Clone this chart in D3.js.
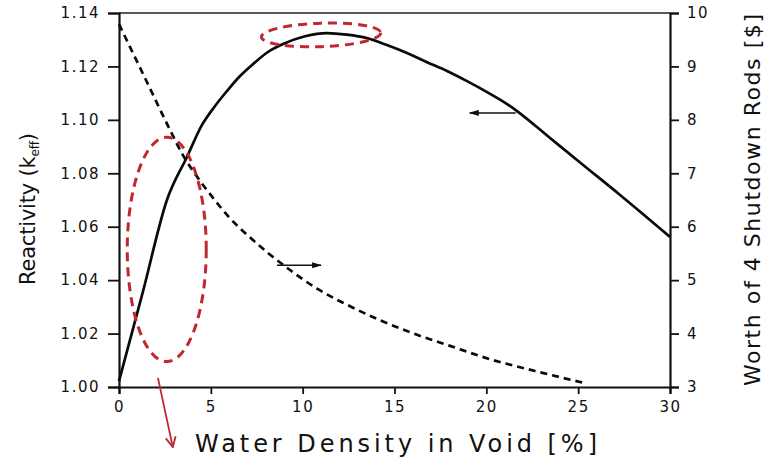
<!DOCTYPE html>
<html>
<head>
<meta charset="utf-8">
<script src="https://cdn.jsdelivr.net/npm/d3@7"></script>
<style>
  html, body { margin: 0; padding: 0; background: #fff; }
  svg { display: block; }
  text { font-family: "DejaVu Sans", sans-serif; fill: #111; }
</style>
</head>
<body>
<svg id="chart" width="768" height="458"></svg>
<script>
// Water density in the void [%] and the matching k-eff (left axis)
const densityK = [0, 1.31, 2.61, 3.70, 4.52, 5.23, 5.88, 6.59, 7.30, 8.11, 8.93, 10.13, 11.32, 12.41, 13.50, 14.59, 15.68, 16.77, 17.86, 18.95, 20.04, 21.13, 21.67, 23.47, 25.27, 27.28, 30.0];
const keff     = [1.0022, 1.0359, 1.0700, 1.0861, 1.0981, 1.1052, 1.1108, 1.1164, 1.1209, 1.1254, 1.1284, 1.1313, 1.1325, 1.1319, 1.1306, 1.1280, 1.1250, 1.1216, 1.1183, 1.1145, 1.1104, 1.1059, 1.1033, 1.0932, 1.0831, 1.0719, 1.0562];

// Water density in the void [%] and the worth of 4 shutdown rods [$] (right axis)
const densityW = [0, 1.42, 2.78, 3.48, 4.30, 5.12, 6.04, 6.97, 8.11, 9.31, 10.83, 12.41, 14.21, 16.12, 18.02, 20.20, 22.65, 25.26];
const rodWorth = [9.79, 8.78, 7.81, 7.34, 6.91, 6.54, 6.16, 5.85, 5.51, 5.19, 4.83, 4.54, 4.25, 3.99, 3.77, 3.52, 3.30, 3.08];

const xTicks  = [0, 5, 10, 15, 20, 25, 30];
const kTicks  = [1.00, 1.02, 1.04, 1.06, 1.08, 1.10, 1.12, 1.14];
const wTicks  = [3, 4, 5, 6, 7, 8, 9, 10];

const svg = d3.select("#chart");

const x  = d3.scaleLinear().domain([0, 30]).range([119, 670]);
const yK = d3.scaleLinear().domain([1.00, 1.14]).range([387, 13]);
const yW = d3.scaleLinear().domain([3, 10]).range([387, 13]);

// top frame line
svg.append("line")
  .attr("x1", x(0)).attr("x2", x(30))
  .attr("y1", yK(1.14)).attr("y2", yK(1.14))
  .attr("stroke", "#222").attr("stroke-width", 1.4);

// axes
const tickFont = g => g.selectAll("text")
  .style("font-family", "DejaVu Sans, sans-serif")
  .style("font-size", "15px")
  .style("letter-spacing", "1.5px")
  .attr("fill", "#111");

const xAxis = svg.append("g")
  .attr("transform", `translate(0,${yK(1.00)})`)
  .call(d3.axisBottom(x).tickValues(xTicks).tickFormat(d3.format("d")).tickSize(7).tickPadding(7));
xAxis.call(tickFont);

const kAxis = svg.append("g")
  .attr("transform", `translate(${x(0)},0)`)
  .call(d3.axisLeft(yK).tickValues(kTicks).tickFormat(d3.format(".2f")).tickSize(11).tickPadding(8));
kAxis.call(tickFont);

const wAxis = svg.append("g")
  .attr("transform", `translate(${x(30)},0)`)
  .call(d3.axisRight(yW).tickValues(wTicks).tickFormat(d3.format("d")).tickSize(9).tickPadding(8));
wAxis.call(tickFont);

svg.selectAll(".domain").attr("stroke", "#111").attr("stroke-width", 2.2);
svg.selectAll(".tick line").attr("stroke", "#111").attr("stroke-width", 1.8);

// reactivity curve (solid)
const kLine = d3.line()
  .x((d, i) => x(densityK[i]))
  .y(d => yK(d))
  .curve(d3.curveMonotoneX);
svg.append("path")
  .datum(keff)
  .attr("d", kLine)
  .attr("fill", "none")
  .attr("stroke", "#0a0a0a")
  .attr("stroke-width", 2.7);

// shutdown rod worth curve (dashed)
const wLine = d3.line()
  .x((d, i) => x(densityW[i]))
  .y(d => yW(d))
  .curve(d3.curveMonotoneX);
svg.append("path")
  .datum(rodWorth)
  .attr("d", wLine)
  .attr("fill", "none")
  .attr("stroke", "#0a0a0a")
  .attr("stroke-width", 2.7)
  .attr("stroke-dasharray", "7,5");

// small arrows pointing each curve to its axis
const defs = svg.append("defs");
defs.append("marker")
  .attr("id", "blackHead")
  .attr("viewBox", "0 0 10 6")
  .attr("refX", 9).attr("refY", 3)
  .attr("markerWidth", 10).attr("markerHeight", 6)
  .attr("markerUnits", "userSpaceOnUse")
  .attr("orient", "auto")
  .append("path").attr("d", "M0,0 L10,3 L0,6 Z").attr("fill", "#111");

defs.append("marker")
  .attr("id", "redHead")
  .attr("viewBox", "0 0 12 12")
  .attr("refX", 11).attr("refY", 6)
  .attr("markerWidth", 12).attr("markerHeight", 12)
  .attr("markerUnits", "userSpaceOnUse")
  .attr("orient", "auto")
  .append("path").attr("d", "M1,1 L11,6 L1,11").attr("fill", "none")
  .attr("stroke", "#c0282e").attr("stroke-width", 1.8);

svg.append("line")
  .attr("x1", x(21.6)).attr("x2", x(19.1))
  .attr("y1", yK(1.1026)).attr("y2", yK(1.1026))
  .attr("stroke", "#111").attr("stroke-width", 1.5)
  .attr("marker-end", "url(#blackHead)");

svg.append("line")
  .attr("x1", x(8.6)).attr("x2", x(11.0))
  .attr("y1", yW(5.28)).attr("y2", yW(5.28))
  .attr("stroke", "#111").attr("stroke-width", 1.5)
  .attr("marker-end", "url(#blackHead)");

// red highlight ellipses
const redDash = sel => sel
  .attr("fill", "none")
  .attr("stroke", "#c0282e")
  .attr("stroke-width", 3)
  .attr("stroke-dasharray", "9,6");

svg.append("ellipse")
  .attr("cx", x(2.6)).attr("cy", yK(1.0515))
  .attr("rx", x(2.15) - x(0)).attr("ry", yK(1.00) - yK(1.042))
  .call(redDash);

svg.append("ellipse")
  .attr("cx", x(11.0)).attr("cy", yK(1.1318))
  .attr("rx", x(3.25) - x(0)).attr("ry", yK(1.00) - yK(1.0044))
  .attr("transform", `rotate(-2,${x(11.0)},${yK(1.1318)})`)
  .call(redDash);

// red arrow pointing down from the low-density ellipse
svg.append("line")
  .attr("x1", x(2.12)).attr("y1", yK(1.0034))
  .attr("x2", x(2.93)).attr("y2", yK(0.9775))
  .attr("stroke", "#c0282e").attr("stroke-width", 1.8)
  .attr("marker-end", "url(#redHead)");

// axis titles
svg.append("text")
  .attr("x", 195).attr("y", 452)
  .attr("textLength", 402).attr("lengthAdjust", "spacing")
  .style("font-size", "24px")
  .text("Water Density in Void [%]");

const kTitle = svg.append("text")
  .attr("transform", "translate(35,285) rotate(-90)")
  .attr("textLength", 152).attr("lengthAdjust", "spacing")
  .style("font-size", "21px");
kTitle.append("tspan").text("Reactivity (k");
kTitle.append("tspan").attr("font-size", "12px").attr("dy", 4).text("eff");
kTitle.append("tspan").attr("dy", -4).text(")");

svg.append("text")
  .attr("transform", "translate(760,386) rotate(-90)")
  .attr("textLength", 372).attr("lengthAdjust", "spacing")
  .style("font-size", "22px")
  .text("Worth of 4 Shutdown Rods [$]");
</script>
</body>
</html>
